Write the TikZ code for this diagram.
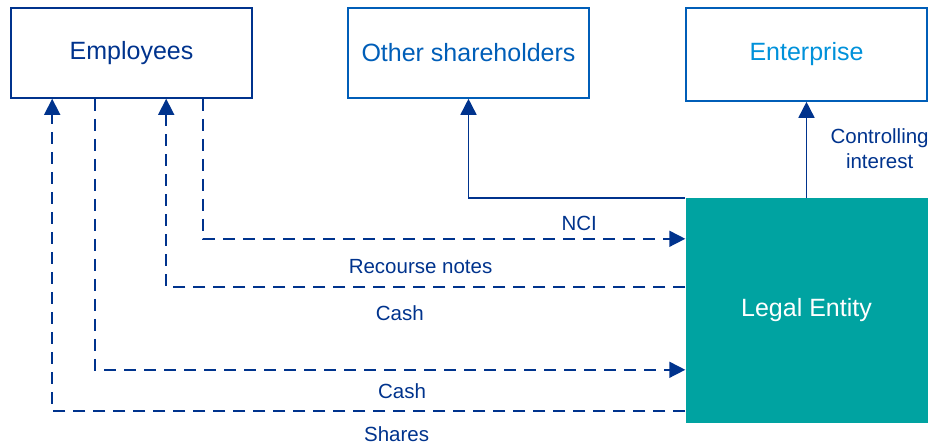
\documentclass[tikz,border=0pt]{standalone}
\usepackage{fontspec}
\setmainfont{Liberation Sans}
\usepackage{tikz}
\usetikzlibrary{positioning, arrows.meta}
\definecolor{kpmgnavy}{HTML}{00338D}
\definecolor{kpmgblue}{HTML}{005EB8}
\definecolor{kpmglight}{HTML}{0091DA}
\definecolor{kpmgteal}{HTML}{00A3A1}

\begin{document}
\begin{tikzpicture}[x=1pt, y=1pt,
        party/.style={rectangle, minimum width=241pt, minimum height=90pt, align=center, draw=kpmgnavy, line width=1.6pt, text=kpmgnavy, font=\fontsize{25}{28}\selectfont},
        entity/.style={rectangle, minimum width=242pt, minimum height=225pt, align=center, fill=kpmgteal, text=white, font=\fontsize{25}{28}\selectfont},
        lbl/.style={text=kpmgnavy, font=\fontsize{20.5}{24}\selectfont, align=center},
        link/.style={line width=1.6pt, draw=kpmgnavy, ->, >={Triangle[length=16pt, width=16pt]}},
        flow/.style={link, dash pattern=on 12pt off 8pt}]

        \useasboundingbox (0,0) rectangle (930,-446);

        % Top row
        \node (employees) [party, anchor=north west] at (10.2,-7.2) {Employees};
        \node (others) [party, right=94.4pt of employees, draw=kpmgblue, text=kpmgblue] {Other shareholders};
        \node (enterprise) [party, right=95.4pt of others, yshift=-1.5pt, minimum height=93pt, draw=kpmgblue, text=kpmglight] {Enterprise};

        % Legal entity
        \node (legal) [entity, below=96pt of enterprise] {Legal Entity};

        % Ownership
        \draw [link] (legal.north west) -| (others.south);
        \draw [link] (legal.north) -- node[lbl, right=20pt, yshift=1pt] {Controlling\\[1pt]interest} (enterprise.south);

        % Flows between employees and legal entity
        \draw [flow] ([xshift=193pt]employees.south west) |- node[lbl, above=4pt, pos=0.89] {NCI} ([yshift=-41pt]legal.north west);
        \draw [flow] ([yshift=-89pt]legal.north west) -| node[lbl, above=9pt, pos=0.255] {Recourse notes} node[lbl, below=15pt, pos=0.275] {Cash} ([xshift=156pt]employees.south west);
        \draw [flow] ([xshift=85pt]employees.south west) |- node[lbl, below=10pt, pos=0.76] {Cash} ([yshift=-172pt]legal.north west);
        \draw [flow] ([yshift=-213pt]legal.north west) -| node[lbl, below=12pt, pos=0.228] {Shares} ([xshift=42pt]employees.south west);

\end{tikzpicture}
\end{document}
